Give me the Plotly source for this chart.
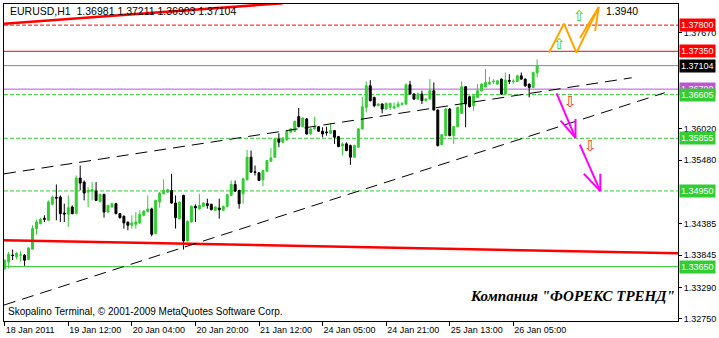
import plotly.graph_objects as go

# ---------------- data ----------------
bar_open = [1.33617,1.33732,1.33846,1.33817,1.33846,1.33846,1.33772,1.33949,1.34303,1.34388,
            1.34480,1.34445,1.34720,1.34839,1.34845,1.34571,1.34548,1.34674,1.34560,1.35171,
            1.35102,1.34931,1.34948,1.34948,1.34765,1.34891,1.34588,1.34674,1.34731,1.34560,
            1.34514,1.34411,1.34360,1.34377,1.34400,1.34531,1.34594,1.34640,1.34217,1.34760,
            1.34902,1.34931,1.34959,1.34742,1.34474,1.34874,1.34091,1.34417,1.34685,1.34645,
            1.34685,1.34731,1.34720,1.34617,1.34657,1.34617,1.34685,1.34874,1.35062,1.34959,
            1.34902,1.35142,1.35530,1.35279,1.35262,1.35142,1.35290,1.35462,1.35530,1.35844,
            1.35787,1.35827,1.35958,1.35976,1.36227,1.36055,1.36187,1.35930,1.36016,1.36055,
            1.35976,1.35964,1.35941,1.35987,1.35884,1.35724,1.35759,1.35730,1.35530,1.35701,
            1.36016,1.36387,1.36758,1.36558,1.36415,1.36444,1.36358,1.36387,1.36375,1.36398,
            1.36432,1.36444,1.36775,1.36615,1.36529,1.36615,1.36501,1.36529,1.36672,1.36341,
            1.35747,1.35901,1.36358,1.35901,1.36055,1.36284,1.36741,1.36569,1.36415,1.36558,
            1.36672,1.36740,1.36786,1.36826,1.36786,1.36872,1.36615,1.36849,1.36826,1.36832,
            1.36929,1.36872,1.36786,1.36729,1.36981]
bar_high = [1.33770,1.33903,1.33943,1.33903,1.33920,1.33863,1.33980,1.34360,1.34457,1.34491,
            1.34531,1.34788,1.34874,1.35062,1.34874,1.34731,1.34874,1.34702,1.35216,1.35388,
            1.35131,1.35016,1.35102,1.35102,1.34902,1.34902,1.34710,1.34748,1.34748,1.34571,
            1.34531,1.34428,1.34531,1.34588,1.34617,1.34617,1.34874,1.34662,1.34799,1.34931,
            1.35148,1.34988,1.35245,1.34874,1.34771,1.34885,1.34445,1.34702,1.34720,1.34902,
            1.34760,1.34817,1.34731,1.34685,1.34817,1.34697,1.34902,1.35131,1.35131,1.34971,
            1.35176,1.35656,1.35644,1.35387,1.35273,1.35313,1.35484,1.35690,1.35861,1.35941,
            1.35873,1.35987,1.36033,1.36158,1.36375,1.36215,1.36204,1.36027,1.36227,1.36067,
            1.36044,1.36055,1.36113,1.35998,1.35896,1.35787,1.35787,1.35747,1.35747,1.36033,
            1.36569,1.36832,1.36854,1.36569,1.36455,1.36455,1.36467,1.36467,1.36472,1.36489,
            1.36472,1.36798,1.36843,1.36626,1.36644,1.36672,1.36547,1.36872,1.36815,1.36352,
            1.35930,1.36375,1.36375,1.36067,1.36398,1.36832,1.36752,1.36586,1.36603,1.36786,
            1.36803,1.37043,1.36912,1.36872,1.36855,1.36883,1.36986,1.36957,1.36872,1.36946,
            1.36986,1.36883,1.36797,1.37003,1.37211]
bar_low = [1.33590,1.33617,1.33760,1.33772,1.33732,1.33663,1.33760,1.33949,1.34200,1.34377,
           1.34417,1.34434,1.34702,1.34445,1.34417,1.34417,1.34331,1.34548,1.34560,1.34959,
           1.34788,1.34674,1.34788,1.34777,1.34754,1.34491,1.34577,1.34662,1.34548,1.34474,
           1.34303,1.34274,1.34303,1.34303,1.34388,1.34514,1.34582,1.34171,1.34206,1.34662,
           1.34891,1.34914,1.34731,1.34303,1.34463,1.33943,1.34080,1.34406,1.34417,1.34628,
           1.34674,1.34645,1.34617,1.34605,1.34474,1.34605,1.34674,1.34862,1.34931,1.34645,
           1.34731,1.35130,1.35262,1.35216,1.35119,1.35028,1.35279,1.35450,1.35519,1.35701,
           1.35776,1.35816,1.35947,1.35964,1.36044,1.36044,1.35918,1.35918,1.36004,1.35964,
           1.35873,1.35901,1.35930,1.35759,1.35701,1.35559,1.35633,1.35399,1.35519,1.35690,
           1.36004,1.36301,1.36489,1.36387,1.36404,1.36284,1.36347,1.36341,1.36358,1.36387,
           1.36421,1.36432,1.36604,1.36512,1.36518,1.36444,1.36489,1.36518,1.36330,1.35713,
           1.35736,1.35890,1.35890,1.35759,1.36044,1.36272,1.36044,1.36387,1.36329,1.36546,
           1.36660,1.36729,1.36775,1.36786,1.36775,1.36603,1.36603,1.36786,1.36786,1.36820,
           1.36860,1.36740,1.36558,1.36717,1.36903]
bar_close = [1.33760,1.33863,1.33840,1.33875,1.33850,1.33760,1.33971,1.34303,1.34417,1.34463,
             1.34463,1.34760,1.34845,1.34828,1.34560,1.34554,1.34662,1.34560,1.35171,1.35085,
             1.34914,1.34959,1.34971,1.34788,1.34891,1.34588,1.34702,1.34731,1.34560,1.34491,
             1.34400,1.34360,1.34400,1.34417,1.34548,1.34605,1.34640,1.34206,1.34788,1.34914,
             1.34959,1.34971,1.34742,1.34491,1.34760,1.34091,1.34428,1.34685,1.34662,1.34702,
             1.34742,1.34702,1.34628,1.34674,1.34628,1.34685,1.34885,1.35062,1.34948,1.34731,
             1.35159,1.35530,1.35273,1.35268,1.35130,1.35302,1.35473,1.35519,1.35844,1.35787,
             1.35856,1.35970,1.36016,1.36147,1.36055,1.36204,1.35930,1.36016,1.36044,1.35976,
             1.35930,1.35953,1.35987,1.35873,1.35713,1.35759,1.35644,1.35530,1.35730,1.36016,
             1.36398,1.36758,1.36501,1.36415,1.36444,1.36358,1.36455,1.36455,1.36398,1.36444,
             1.36455,1.36775,1.36615,1.36529,1.36615,1.36501,1.36529,1.36672,1.36341,1.35730,
             1.35918,1.36358,1.35901,1.36055,1.36387,1.36741,1.36444,1.36398,1.36586,1.36672,
             1.36786,1.36815,1.36815,1.36837,1.36843,1.36615,1.36855,1.36837,1.36837,1.36929,
             1.36872,1.36757,1.36729,1.36986,1.37104]
bar_index = list(range(len(bar_close)))

time_tick_bars = [0, 16, 32, 48, 64, 80, 96, 112, 128]
time_tick_labels = ["18 Jan 2011", "19 Jan 12:00", "20 Jan 04:00", "20 Jan 20:00", "21 Jan 12:00",
                    "24 Jan 05:00", "24 Jan 21:00", "25 Jan 13:00", "26 Jan 05:00"]

price_ticks = [1.37670, 1.36020, 1.35480, 1.34385, 1.33845, 1.33290, 1.32750]
price_tick_labels = ["1.37670", "1.36020", "1.35480", "1.34385", "1.33845", "1.33290", "1.32750"]

# horizontal levels
level_prices = [1.37800, 1.37350, 1.37104, 1.36700, 1.36605, 1.35855, 1.34950, 1.33650]
level_labels = ["1.37800", "1.37350", "1.37104", "1.36700", "1.36605", "1.35855", "1.34950", "1.33650"]
level_colors = ["#FF0000", "#FF0000", "#778899", "#BA55D3", "#32CD32", "#32CD32", "#32CD32", "#32CD32"]
level_dashes = ["4px,2px", "solid", "solid", "solid", "4px,2px", "4px,2px", "4px,2px", "solid"]
badge_colors = ["#FF0000", "#FF0000", "#000000", "#BA55D3", "#32CD32", "#32CD32", "#32CD32", "#32CD32"]

# trend lines (bar index, price)
red_top_bars = [-1, 70]
red_top_prices = [1.37818, 1.38178]
red_bottom_bars = [-0.2, 169.5]
red_bottom_prices = [1.34103, 1.33880]
chan_upper_bars = [-0.175, 157.8]
chan_upper_prices = [1.35244, 1.36895]
chan_lower_bars = [-0.175, 166.1]
chan_lower_prices = [1.32989, 1.36638]

# forecast scenario paths
up_path_bars = [137.0, 140.75, 143.9, 149.5, None, 149.5, 144.8, None, 149.5, 148.6]
up_path_prices = [1.37328, 1.37825, 1.37328, 1.38111, None, 1.38111, 1.37580, None, 1.38111, 1.37700]
down_path_bars = [138.9, 143.65, None, 143.65, 139.9, None, 143.65, 143.65, None,
                  144.75, 149.9, None, 149.9, 145.75, None, 149.9, 149.9]
down_path_prices = [1.36626, 1.35862, None, 1.35862, 1.36158, None, 1.35862, 1.36188, None,
                    1.35747, 1.34947, None, 1.34947, 1.35245, None, 1.34947, 1.35245]
up_icon_bars = [139.75, 144.75]
up_icon_prices = [1.37472, 1.37957]
down_icon_bars = [142.4, 147.4]
down_icon_prices = [1.36472, 1.35730]
target_bar = 150.8
target_price = 1.38040
target_label = "1.3940"

GREEN = "#32CD32"
FONT = "Liberation Sans"

fig = go.Figure()

fig.add_trace(go.Candlestick(
    x=bar_index, open=bar_open, high=bar_high, low=bar_low, close=bar_close,
    increasing=dict(line=dict(color=GREEN, width=1), fillcolor=GREEN),
    decreasing=dict(line=dict(color="black", width=1), fillcolor="black"),
    whiskerwidth=0, hoverinfo="skip"))

for bx, py, col, w, dash in [
    (red_top_bars, red_top_prices, "#FF0000", 2.5, "solid"),
    (red_bottom_bars, red_bottom_prices, "#FF0000", 2.5, "solid"),
    (chan_upper_bars, chan_upper_prices, "black", 1, "12px,7px"),
    (chan_lower_bars, chan_lower_prices, "black", 1, "12px,7px"),
]:
    fig.add_trace(go.Scatter(x=bx, y=py, mode="lines",
                             line=dict(color=col, width=w, dash=dash), hoverinfo="skip"))

fig.add_trace(go.Scatter(x=up_path_bars, y=up_path_prices, mode="lines",
                         line=dict(color="#FFA500", width=2), hoverinfo="skip"))
fig.add_trace(go.Scatter(x=down_path_bars, y=down_path_prices, mode="lines",
                         line=dict(color="#FF00FF", width=2), hoverinfo="skip"))

shapes = []
for p, c, d in zip(level_prices, level_colors, level_dashes):
    shapes.append(dict(type="line", xref="paper", x0=0, x1=1, yref="y", y0=p, y1=p,
                       line=dict(color=c, width=1, dash=d), layer="below"))

annotations = []
for p, t, c in zip(level_prices, level_labels, badge_colors):
    annotations.append(dict(x=1, xref="paper", xanchor="left", xshift=1, y=p, yref="y",
                            yanchor="middle", text=t, showarrow=False,
                            font=dict(family=FONT, size=9, color="white"),
                            bgcolor=c, borderpad=1))
for bx, py in zip(up_icon_bars, up_icon_prices):
    annotations.append(dict(x=bx, y=py, xref="x", yref="y", text="⇧", showarrow=False,
                            font=dict(family="DejaVu Sans", size=15, color=GREEN)))
for bx, py in zip(down_icon_bars, down_icon_prices):
    annotations.append(dict(x=bx, y=py, xref="x", yref="y", text="⇩", showarrow=False,
                            font=dict(family="DejaVu Sans", size=15, color="#FF3300")))
annotations.append(dict(x=target_bar, y=target_price, xref="x", yref="y", xanchor="left",
                        text=target_label, showarrow=False,
                        font=dict(family=FONT, size=10.5, color="black")))
annotations.append(dict(x=0.006, y=0.978, xref="paper", yref="paper", xanchor="left",
                        yanchor="middle",
                        text="EURUSD,H1  1.36981 1.37211 1.36903 1.37104", showarrow=False,
                        font=dict(family=FONT, size=10.5, color="black")))
annotations.append(dict(x=0.003, y=0.031, xref="paper", yref="paper", xanchor="left",
                        yanchor="middle",
                        text="Skopalino Terminal, © 2001-2009 MetaQuotes Software Corp.",
                        showarrow=False, font=dict(family=FONT, size=10, color="black")))
annotations.append(dict(x=0.999, y=0.079, xref="paper", yref="paper", xanchor="right",
                        yanchor="middle",
                        text="<b><i>Компания \"ФОРЕКС ТРЕНД\"</i></b>",
                        showarrow=False, font=dict(family="Liberation Serif", size=15, color="black")))

fig.update_layout(
    width=719, height=338,
    margin=dict(l=3, r=38, t=3, b=17),
    paper_bgcolor="white", plot_bgcolor="white",
    showlegend=False,
    shapes=shapes, annotations=annotations,
    xaxis=dict(range=[-0.175, 169.45], showgrid=False, zeroline=False,
               showline=True, mirror=True, linecolor="black", linewidth=1,
               tickmode="array", tickvals=time_tick_bars, ticktext=time_tick_labels,
               ticks="outside", ticklen=4, tickcolor="black", tickangle=0,
               ticklabelposition="outside right",
               tickfont=dict(family=FONT, size=9, color="black"),
               rangeslider=dict(visible=False)),
    yaxis=dict(range=[1.32715, 1.38163], side="right", showgrid=False, zeroline=False,
               showline=True, mirror=True, linecolor="black", linewidth=1,
               tickmode="array", tickvals=price_ticks, ticktext=price_tick_labels,
               ticks="outside", ticklen=3, tickcolor="black",
               tickfont=dict(family=FONT, size=9, color="black")),
)

fig.write_html("out.html")
